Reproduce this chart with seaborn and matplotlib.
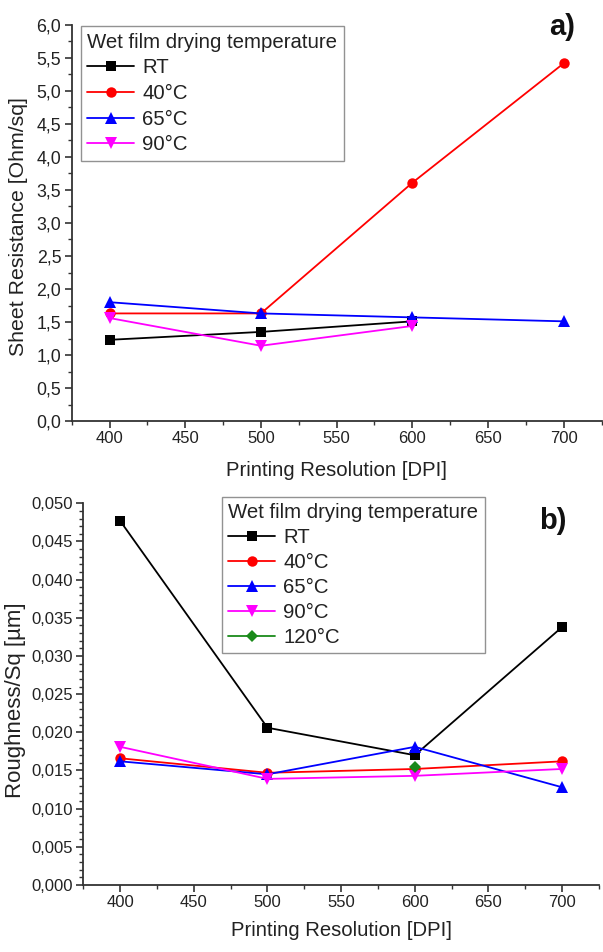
import numpy as np
import pandas as pd
import matplotlib
matplotlib.use("Agg")
import matplotlib.pyplot as plt
from matplotlib.ticker import MultipleLocator, FuncFormatter
import seaborn as sns

# ---------------- data ----------------
dpi_all = [400, 500, 600, 700]

# panel a) sheet resistance [Ohm/sq]
a_rt_x = [400, 500, 600]
a_rt_y = [1.23, 1.35, 1.51]
a_40_x = [400, 500, 600, 700]
a_40_y = [1.63, 1.63, 3.61, 5.42]
a_65_x = [400, 500, 600, 700]
a_65_y = [1.80, 1.63, 1.57, 1.51]
a_90_x = [400, 500, 600]
a_90_y = [1.56, 1.14, 1.44]

# panel b) roughness Sq [µm]
b_rt_x = [400, 500, 600, 700]
b_rt_y = [0.0477, 0.0206, 0.0170, 0.0338]
b_40_x = [400, 500, 600, 700]
b_40_y = [0.0166, 0.0147, 0.0152, 0.0162]
b_65_x = [400, 500, 600, 700]
b_65_y = [0.0162, 0.0145, 0.0181, 0.0128]
b_90_x = [400, 500, 600, 700]
b_90_y = [0.0181, 0.0139, 0.0143, 0.0152]
b_120_x = [600]
b_120_y = [0.0154]

series_names = ["RT", "40°C", "65°C", "90°C", "120°C"]
legend_title = "Wet film drying temperature"
xlabel = "Printing Resolution [DPI]"
ylabel_a = "Sheet Resistance [Ohm/sq]"
ylabel_b = "Roughness/Sq [µm]"

colors = {"RT": "#000000", "40°C": "#ff0000", "65°C": "#0000ff",
          "90°C": "#ff00ff", "120°C": "#1a8a1a"}
markers = {"RT": "s", "40°C": "o", "65°C": "^", "90°C": "v", "120°C": "D"}
msizes = {"RT": 7, "40°C": 7.5, "65°C": 8, "90°C": 8, "120°C": 6.5}

# ---------------- style ----------------
sns.set_theme(style="ticks")
plt.rcParams["font.family"] = ["Liberation Sans", "DejaVu Sans"]
TXT = "#222222"

W, H = 603, 952
fig = plt.figure(figsize=(W / 100, H / 100), dpi=100)


def frac_axes(l, t, r, b):
    return fig.add_axes([l / W, 1 - b / H, (r - l) / W, (b - t) / H])


axA = frac_axes(71.7, 25, 601.6, 421)
axB = frac_axes(83.3, 503.3, 599, 885)


def draw(ax, data):
    for name, xs, ys in data:
        sns.lineplot(x=xs, y=ys, ax=ax, color=colors[name], marker=markers[name],
                     markersize=msizes[name], markeredgewidth=0, linewidth=1.3,
                     label=name, errorbar=None, sort=True)


draw(axA, [("RT", a_rt_x, a_rt_y), ("40°C", a_40_x, a_40_y),
           ("65°C", a_65_x, a_65_y), ("90°C", a_90_x, a_90_y)])
draw(axB, [("RT", b_rt_x, b_rt_y), ("40°C", b_40_x, b_40_y),
           ("65°C", b_65_x, b_65_y), ("90°C", b_90_x, b_90_y),
           ("120°C", b_120_x, b_120_y)])


def style_axes(ax, ylim, ymaj, ymin, yfmt, ylab, ylab_size, ylab_x, ylab_y,
               xlab_y, ytick_size):
    ax.set_xlim(375, 725)
    ax.set_ylim(*ylim)
    ax.xaxis.set_major_locator(MultipleLocator(50))
    ax.xaxis.set_minor_locator(MultipleLocator(25))
    ax.yaxis.set_major_locator(MultipleLocator(ymaj))
    ax.yaxis.set_minor_locator(MultipleLocator(ymin))
    ax.yaxis.set_major_formatter(FuncFormatter(lambda v, p: yfmt.format(v).replace(".", ",")))
    ax.xaxis.set_major_formatter(FuncFormatter(lambda v, p: f"{v:.0f}"))
    for s in ["top", "right"]:
        ax.spines[s].set_visible(False)
    for s in ["left", "bottom"]:
        ax.spines[s].set_linewidth(1.3)
        ax.spines[s].set_color("#333333")
    ax.tick_params(which="major", direction="out", length=5, width=1.2,
                   color="#333333", labelsize=12, labelcolor=TXT, pad=2.5)
    ax.tick_params(axis="y", which="major", labelsize=ytick_size)
    ax.tick_params(which="minor", direction="out", length=2.8, width=1.0,
                   color="#333333")
    ax.set_xlabel(xlabel, fontsize=14.6, color=TXT)
    ax.set_ylabel(ylab, fontsize=ylab_size, color=TXT)
    ax.xaxis.label.set_va("center")
    ax.yaxis.label.set_va("center")
    ax.xaxis.set_label_coords(0.5, xlab_y)
    ax.yaxis.set_label_coords(ylab_x, ylab_y)
    ax.grid(False)


style_axes(axA, (0, 6.0), 0.5, 0.25, "{:.1f}", ylabel_a, 15.3, -0.101, 0.49,
           -0.126, 12.8)
style_axes(axB, (0, 0.050), 0.005, 0.001, "{:.3f}", ylabel_b, 16, -0.1324, 0.483,
           -0.12, 12)


def make_legend(ax, anchor, spacing):
    h, l = ax.get_legend_handles_labels()
    leg = ax.legend(h, l, title=legend_title, loc="upper left",
                    bbox_to_anchor=anchor, borderaxespad=0, fancybox=False,
                    frameon=True, edgecolor="#777777", fontsize=14.7,
                    title_fontsize=14.7, handlelength=2.3, handletextpad=0.4,
                    labelspacing=spacing, borderpad=0.32, alignment="left")
    leg.get_frame().set_linewidth(1.0)
    for t in leg.get_texts():
        t.set_color(TXT)
    leg.get_title().set_color(TXT)
    return leg


make_legend(axA, (0.017, 0.9975), 0.33)
make_legend(axB, (0.2686, 1.017), 0.29)

fig.text(562 / W, 1 - 27 / H, "a)", fontsize=21, fontweight="bold",
         ha="center", va="center", color="#111111")
fig.text(553 / W, 1 - 521 / H, "b)", fontsize=21, fontweight="bold",
         ha="center", va="center", color="#111111")

fig.savefig("out.png", dpi=100, facecolor="white")
